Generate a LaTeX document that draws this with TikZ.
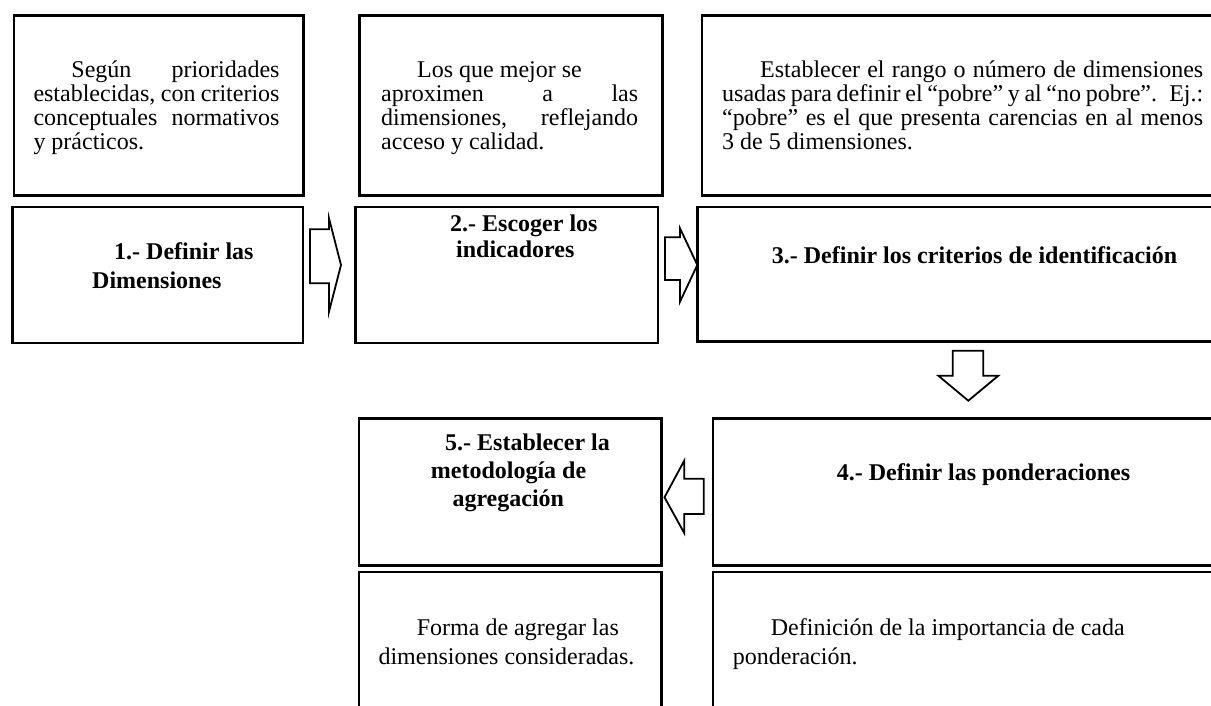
\documentclass[tikz,border=0pt]{standalone}
\usepackage{fontspec}
\setmainfont{Liberation Serif}
\newcommand\jb[2]{\makebox[#1][s]{#2}}
\begin{document}
\begin{tikzpicture}[x=1pt,y=-1pt,
  box/.style={draw, line width=2.6pt, inner sep=0pt, anchor=north west},
  barrow/.style={draw, line width=1.8pt, line join=miter},
  desc/.style={inner sep=0pt, anchor=base west, font=\fontsize{24}{24}\selectfont},
  ttl/.style={inner sep=0pt, anchor=base west, font=\fontsize{24}{24}\selectfont\bfseries}]
\useasboundingbox (0,0) rectangle (1211,706);
\clip (0,0) rectangle (1211,706);
% boxes
\node[box, minimum width=289.3pt, minimum height=180.3pt] (b1t) at (12.7,14) {};
\node[box, minimum width=290.7pt, minimum height=136pt] (b1b) at (11,205.7) {};
\node[box, minimum width=302.7pt, minimum height=180.3pt] (b2t) at (358.3,14) {};
\node[box, minimum width=302.4pt, minimum height=136pt] (b2b) at (354.3,205.7) {};
\node[box, minimum width=520pt, minimum height=180.3pt] (b3t) at (700.7,14) {};
\node[box, minimum width=525pt, minimum height=134.3pt] (b3b) at (696,205.7) {};
\node[box, minimum width=302.3pt, minimum height=146.7pt] (b5) at (357.7,417.3) {};
\node[box, minimum width=302.3pt, minimum height=150pt] (b5d) at (357.7,570.7) {};
\node[box, minimum width=510pt, minimum height=146.7pt] (b4) at (711.7,417.3) {};
\node[box, minimum width=510pt, minimum height=150pt] (b4d) at (711.7,570.7) {};
% block arrows
\draw[barrow] (310,229.3) -- (329,229.3) -- (329,218.3) -- (341,265) -- (329,311.7) -- (329,283.3) -- (310,283.3) -- cycle;
\draw[barrow] (665,237.3) -- (680,237.3) -- (680,228.3) -- (697.3,265) -- (680,301.7) -- (680,280) -- (665,280) -- cycle;
\draw[barrow] (952.7,350.7) -- (983.3,350.7) -- (983.3,375.7) -- (998.3,375.7) -- (968.3,400.7) -- (938.3,375.7) -- (952.7,375.7) -- cycle;
\draw[barrow] (703.8,478.7) -- (684.2,478.7) -- (684.2,460.7) -- (664.5,497.3) -- (684.2,533) -- (684.2,514) -- (703.8,514) -- cycle;
% description texts (top row), one node per line
\node[desc] (d1a) at (33.3,78)    {\jb{246pt}{\hspace*{38pt}Según prioridades}};
\node[desc] (d1b) at (33.3,101.7) {\jb{246pt}{establecidas, con criterios}};
\node[desc] (d1c) at (33.3,125.4) {\jb{246pt}{conceptuales normativos}};
\node[desc] (d1d) at (33.3,149.1) {y prácticos.};
\node[desc] (d2a) at (417,78)     {Los que mejor se};
\node[desc] (d2b) at (381,101.7)  {\jb{257pt}{aproximen a las}};
\node[desc] (d2c) at (381,125.4)  {\jb{257pt}{dimensiones, reflejando}};
\node[desc] (d2d) at (381,149.1)  {acceso y calidad.};
\node[desc] (d3a) at (722,78)     {\jb{481pt}{\hspace*{38pt}Establecer el rango o número de dimensiones}};
\node[desc] (d3b) at (722,101.7)  {\jb{481pt}{usadas para definir el “pobre” y al “no pobre”.~ Ej.:}};
\node[desc] (d3c) at (722,125.4)  {\jb{481pt}{“pobre” es el que presenta carencias en al menos}};
\node[desc] (d3d) at (722,149.1)  {3 de 5 dimensiones.};
% titles
\node[ttl] (t1a) at (114,259) {1.- Definir las};
\node[ttl] (t1b) at (92,288) {Dimensiones};
\node[ttl] (t2a) at (450,231) {2.- Escoger los};
\node[ttl] (t2b) at (456,257) {indicadores};
\node[ttl] (t3) at (771.7,263) {3.- Definir los criterios de identificación};
\node[ttl] (t4) at (836.7,480) {4.- Definir las ponderaciones};
\node[ttl] (t5a) at (445,450) {5.- Establecer la};
\node[ttl] (t5b) at (430.7,478) {metodología de};
\node[ttl] (t5c) at (452.3,506) {agregación};
% description texts (bottom row)
\node[desc] (d5a) at (416.7,635) {Forma de agregar las};
\node[desc] (d5b) at (378.3,664) {dimensiones consideradas.};
\node[desc] (d4a) at (770.7,635) {Definición de la importancia de cada};
\node[desc] (d4b) at (732.7,664) {ponderación.};
\end{tikzpicture}
\end{document}
